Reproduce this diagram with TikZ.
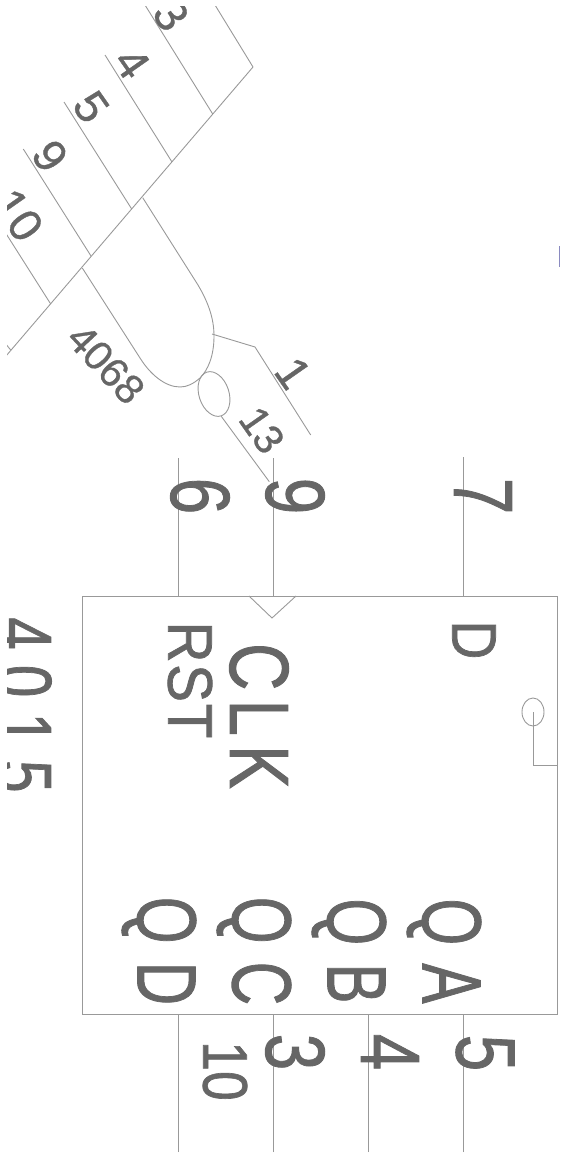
\documentclass[tikz,border=0pt]{standalone}
\usepackage{fontspec}
\setmainfont{Liberation Sans}
\usetikzlibrary{shapes.geometric}
\definecolor{wire}{HTML}{999999}
\definecolor{ink}{HTML}{666666}
\definecolor{edgemark}{HTML}{8A8AC0}
\tikzset{
  wire/.style={draw=wire,line width=0.9pt},
  biglabel/.style={text=ink,inner sep=0pt,rotate=-90,xscale=0.78,transform shape,font=\fontsize{84}{84}\selectfont\addfontfeature{FakeBold=1.2}},
  midlabel/.style={text=ink,inner sep=0pt,rotate=-90,xscale=0.85,transform shape,font=\fontsize{63}{63}\selectfont\addfontfeature{FakeBold=1.2}},
  gatelabel/.style={text=ink,inner sep=0pt,rotate=-55,transform shape,font=\fontsize{46}{46}\selectfont\addfontfeature{FakeBold=0.8}},
  smallgatelabel/.style={gatelabel,font=\fontsize{41}{41}\selectfont\addfontfeature{FakeBold=0.8}},
}
\begin{document}
\begin{tikzpicture}[x=1pt,y=-1pt]
   \path[use as bounding box] (0,0) rectangle (560,1156);
   \clip (7,7) rectangle (560,1156);
   % gate
   \coordinate (back_a) at (253,67);
   \coordinate (back_b) at (6,356);
   \coordinate (g_3) at (212.7,114);
   \coordinate (g_4) at (172,162);
   \coordinate (g_5) at (131.7,209);
   \coordinate (g_9) at (91,256);
   \coordinate (g_10) at (50.7,304);
   \coordinate (t_top) at (215,5);
   \coordinate (t_3) at (145,5);
   \coordinate (t_4) at (105,55);
   \coordinate (t_5) at (64,102);
   \coordinate (t_9) at (23.3,149);
   \coordinate (t_10) at (5,232);
   \coordinate (t_tick) at (5,343);
   \coordinate (g_tick) at (10.7,350);
   \draw[wire] (back_a) -- (back_b);
   \draw[wire] (t_top) -- (back_a);
   \draw[wire] (t_3) -- (g_3);
   \draw[wire] (t_4) -- (g_4);
   \draw[wire] (t_5) -- (g_5);
   \draw[wire] (t_9) -- (g_9);
   \draw[wire] (t_10) -- (g_10);
   \draw[wire] (t_tick) -- (g_tick);
   \draw[wire] (142.7,197.7) -- (198,285)
       .. controls (208,302) and (214,318) .. (214,336)
       .. controls (214,356) and (208,370) .. (200,378)
       .. controls (193,384) and (187,387) .. (180,387)
       .. controls (165,387) and (150,374) .. (140,358)
       -- (82.3,268);
   \node[wire,ellipse,inner sep=0pt,minimum width=46pt,minimum height=30pt,rotate=-72] (bubble) at (214,394) {};
   \coordinate (out_bend) at (255,347);
   \coordinate (out_a) at (212,334);
   \coordinate (out_end) at (310.7,435);
   \coordinate (q_end) at (269.3,481.7);
   \draw[wire] (out_a) -- (out_bend) -- (out_end);
   \draw[wire] (bubble.east) -- (q_end);
   \node[gatelabel] (lab_3) at (171,15) {3};
   \node[gatelabel] (lab_4) at (132,63) {4};
   \node[gatelabel] (lab_5) at (91,107) {5};
   \node[gatelabel] (lab_9) at (50,156) {9};
   \node[gatelabel] (lab_10) at (18,215) {10};
   \node[smallgatelabel,rotate=8] (lab_4068) at (106,364) {4068};
   \node[gatelabel] (lab_1) at (293,373) {1};
   \node[smallgatelabel] (lab_13) at (262,430) {13};
   % counter
   \node[wire,rectangle,minimum width=475pt,minimum height=418pt,inner sep=0pt] (ic) at (319.5,805) {};
   \coordinate (in_6) at (178,458);
   \coordinate (in_9) at (273,458);
   \coordinate (in_7) at (463,457);
   \coordinate (out_d) at (178,1152);
   \coordinate (out_c) at (273,1152);
   \coordinate (out_b) at (368,1152);
   \coordinate (out_q) at (463,1152);
   \draw[wire] (in_6) -- (in_6 |- ic.north);
   \draw[wire] (in_9) -- (in_9 |- ic.north);
   \draw[wire] (in_7) -- (in_7 |- ic.north);
   \draw[wire] (out_d) -- (out_d |- ic.south);
   \draw[wire] (out_c) -- (out_c |- ic.south);
   \draw[wire] (out_b) -- (out_b |- ic.south);
   \draw[wire] (out_q) -- (out_q |- ic.south);
   \coordinate (clk_a) at (249,596);
   \coordinate (clk_tip) at (272,618);
   \coordinate (clk_b) at (296,596);
   \draw[wire] (clk_a) -- (clk_tip) -- (clk_b);
   \node[wire,ellipse,inner sep=0pt,minimum width=22pt,minimum height=28pt] (dot) at (533,712) {};
   \coordinate (dot_bend) at (533,765);
   \draw[wire] (dot.center) -- (dot_bend) -- (dot_bend -| ic.east);
   \coordinate (mark_a) at (559,246);
   \coordinate (mark_b) at (559,267);
   \draw[edgemark,line width=1pt] (mark_a) -- (mark_b);
   % labels
   \node[biglabel] (pin_6) at (200,496) {6};
   \node[biglabel] (pin_9) at (295,496) {9};
   \node[biglabel] (pin_7) at (483,496) {7};
   \node[midlabel,xscale=1.06] (rst) at (190,680) {\addfontfeature{LetterSpace=3}RST};
   \node[biglabel] (clk) at (259,716) {\addfontfeature{LetterSpace=14}CLK};
   \node[midlabel] (d_in) at (474,640) {D};
   \node[midlabel,font=\fontsize{78}{78}\selectfont\addfontfeature{FakeBold=1.2},xscale=0.88] (part) at (24,705) {\addfontfeature{LetterSpace=26}4015};
   \node[biglabel,xscale=0.92] (qd) at (159,951) {\addfontfeature{LetterSpace=30}QD};
   \node[biglabel,xscale=0.92] (qc) at (254,951) {\addfontfeature{LetterSpace=30}QC};
   \node[biglabel,xscale=0.92] (qb) at (349,951) {\addfontfeature{LetterSpace=30}QB};
   \node[biglabel,xscale=0.92] (qa) at (444,951) {\addfontfeature{LetterSpace=30}QA};
   \node[midlabel] (pin_10) at (225,1071) {10};
   \node[biglabel] (pin_3) at (295,1052) {3};
   \node[biglabel] (pin_4) at (390,1052) {4};
   \node[biglabel] (pin_5) at (485,1053) {5};
\end{tikzpicture}
\end{document}
